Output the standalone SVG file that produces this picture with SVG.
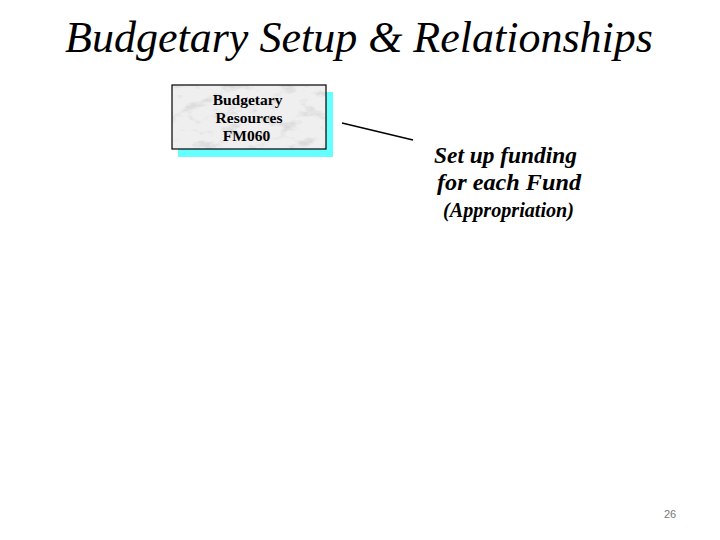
<svg xmlns="http://www.w3.org/2000/svg" width="720" height="540" viewBox="0 0 720 540">
<defs>
<filter id="marble" x="0" y="0" width="1" height="1">
<feTurbulence type="fractalNoise" baseFrequency="0.05 0.1" numOctaves="4" seed="7" result="n"/>
<feFlood flood-color="#efefef" result="bg"/>
<feComposite in="bg" in2="SourceGraphic" operator="in" result="bgc"/>
<feColorMatrix in="n" type="matrix" values="0 0 0 0 0.7  0 0 0 0 0.7  0 0 0 0 0.7  4 0 0 0 -2.1" result="v"/>
<feComposite in="v" in2="SourceGraphic" operator="in" result="vc"/>
<feMerge><feMergeNode in="bgc"/><feMergeNode in="vc"/></feMerge>
</filter>
</defs>
<rect width="720" height="540" fill="#fff"/>
<text x="359" y="52" text-anchor="middle" font-family="Liberation Serif, serif" font-style="italic" font-size="44" fill="#000">Budgetary Setup &amp; Relationships</text>
<g id="budgetary-resources" font-family="Liberation Serif, serif" font-weight="bold" font-size="15.5" fill="#000" text-anchor="middle">
<rect x="178" y="92" width="155" height="65" fill="#66ffff"/>
<rect x="172" y="85" width="154" height="64" fill="#efefef" filter="url(#marble)"/>
<rect x="172" y="85" width="154" height="64" fill="none" stroke="#000" stroke-width="1.2"/>
<text x="247.5" y="104.5">Budgetary</text>
<text x="249" y="122.5">Resources</text>
<text x="246.5" y="141">FM060</text>
</g>
<g id="connectors">
<line x1="342" y1="123" x2="413" y2="140" stroke="#000" stroke-width="1.5"/>
</g>
<g id="funding-note" font-family="Liberation Serif, serif" font-weight="bold" font-style="italic" fill="#000">
<text x="434" y="163" font-size="23.5" textLength="143" lengthAdjust="spacingAndGlyphs">Set up funding</text>
<text x="437" y="190" font-size="23.5" textLength="144" lengthAdjust="spacingAndGlyphs">for each Fund</text>
<text x="443" y="217" font-size="20" textLength="131" lengthAdjust="spacingAndGlyphs">(Appropriation)</text>
</g>
<text x="670" y="518" text-anchor="middle" font-family="Liberation Sans, sans-serif" font-size="11" fill="#777">26</text>
</svg>
